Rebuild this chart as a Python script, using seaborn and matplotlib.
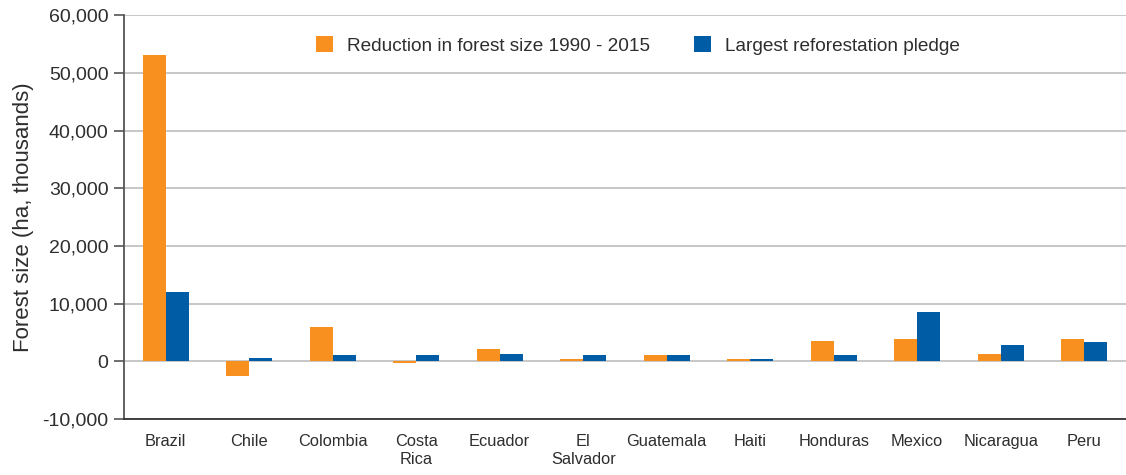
"""Forest size reduction vs reforestation pledges, Latin America."""
import matplotlib
matplotlib.use('Agg')
import matplotlib.pyplot as plt
import matplotlib.ticker as mticker
import seaborn as sns
import numpy as np
import pandas as pd

# Data (ha, thousands)
countries = ['Brazil', 'Chile', 'Colombia', 'Costa\nRica', 'Ecuador', 'El\nSalvador',
             'Guatemala', 'Haiti', 'Honduras', 'Mexico', 'Nicaragua', 'Peru']
reduction = [53100, -2500, 6000, -300, 2200, 400, 1100, 400, 3550, 3900, 1300, 3900]
pledge = [12000, 600, 1100, 1100, 1300, 1100, 1100, 400, 1100, 8600, 2850, 3400]
series = ['Reduction in forest size 1990 - 2015', 'Largest reforestation pledge']
colors = ['#F7901E', '#005CA5']

df = pd.DataFrame({
    'country': countries * 2,
    'value': reduction + pledge,
    'series': [series[0]] * len(countries) + [series[1]] * len(countries),
})

sns.set_theme(style='white')
plt.rcParams['font.family'] = ['Liberation Sans', 'DejaVu Sans']
text_col = '#2E2E2E'

fig, ax = plt.subplots(figsize=(11.26, 4.75), dpi=100)
fig.subplots_adjust(left=0.110, right=1.0, top=0.968, bottom=0.118)

sns.barplot(data=df, x='country', y='value', hue='series', order=countries,
            hue_order=series, palette=colors, width=0.55, saturation=1,
            linewidth=0, ax=ax, zorder=3)

ax.set_ylim(-10000, 60000)
ax.set_xlim(-0.5, len(countries) - 0.5)
ax.yaxis.set_major_locator(mticker.MultipleLocator(10000))
ax.yaxis.set_major_formatter(mticker.FuncFormatter(lambda v, p: f'{int(v):,}'))
ax.grid(axis='y', color='#BDBDBD', linewidth=1.2, zorder=0)
ax.set_axisbelow(True)

for side in ['top', 'right']:
    ax.spines[side].set_visible(False)
ax.spines['left'].set_color('#555555')
ax.spines['left'].set_linewidth(1.3)
ax.spines['bottom'].set_color('#333333')
ax.spines['bottom'].set_linewidth(1.3)

# tick marks at category boundaries, labels centred
ax.set_xticks(np.arange(len(countries)))
ax.set_xticklabels(countries, fontsize=11.8, color=text_col, linespacing=1.25)
ax.set_xticks(np.arange(-0.5, len(countries)), minor=True)
ax.tick_params(axis='x', which='major', length=0, pad=11)
ax.tick_params(axis='x', which='minor', length=7, width=1.2, color='#333333', direction='out')
ax.tick_params(axis='y', length=7, width=1.2, color='#555555', direction='out',
               labelsize=14, labelcolor=text_col, left=True, pad=4)

ax.set_xlabel('')
ax.set_ylabel('Forest size (ha, thousands)', fontsize=16, color=text_col, labelpad=6)

leg = ax.legend(loc='upper center', bbox_to_anchor=(0.513, 0.99), ncol=2, frameon=False,
                fontsize=13.7, handlelength=0.9, handleheight=0.9, columnspacing=2.3,
                handletextpad=0.75)
for t in leg.get_texts():
    t.set_color(text_col)

plt.savefig('out.png', dpi=100)
plt.close()
